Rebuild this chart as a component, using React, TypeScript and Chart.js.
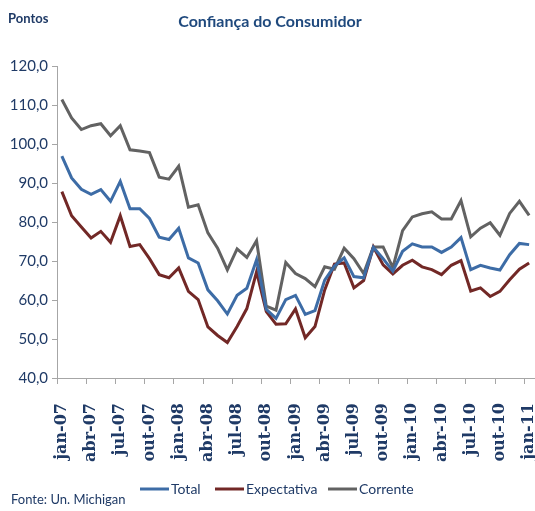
import React, { useEffect, useRef } from "react";
import { Chart, registerables } from "chart.js";

Chart.register(...registerables);

const months = ["jan", "fev", "mar", "abr", "mai", "jun", "jul", "ago", "set", "out", "nov", "dez"];
const years = ["07", "08", "09", "10"];
const categories: string[] = [];
years.forEach((y) => months.forEach((m) => categories.push(`${m}-${y}`)));
categories.push("jan-11");

const totalValues = [
  96.9, 91.3, 88.4, 87.1, 88.3, 85.3, 90.4, 83.4, 83.4, 80.9, 76.1, 75.5,
  78.4, 70.8, 69.5, 62.6, 59.8, 56.4, 61.2, 63.0, 70.3, 57.6, 55.3, 60.1,
  61.2, 56.3, 57.3, 65.1, 68.7, 70.8, 66.0, 65.7, 73.5, 70.6, 67.4, 72.5,
  74.4, 73.6, 73.6, 72.2, 73.6, 76.0, 67.8, 68.9, 68.2, 67.7, 71.6, 74.5,
  74.2,
];
const expectativaValues = [
  87.8, 81.6, 78.7, 75.9, 77.6, 74.8, 81.6, 73.7, 74.2, 70.6, 66.5, 65.7,
  68.2, 62.2, 60.1, 53.1, 50.9, 49.1, 53.2, 57.8, 67.2, 57.0, 53.8, 53.9,
  57.7, 50.3, 53.2, 62.6, 69.2, 69.5, 63.1, 65.0, 73.6, 69.0, 66.7, 68.9,
  70.2, 68.5, 67.8, 66.5, 68.9, 70.1, 62.3, 63.1, 60.9, 62.2, 65.2, 67.9,
  69.5,
];
const correnteValues = [
  111.4, 106.7, 103.7, 104.7, 105.2, 102.1, 104.7, 98.5, 98.2, 97.8, 91.5, 91.0,
  94.3, 83.8, 84.4, 77.2, 73.3, 67.7, 73.1, 70.9, 75.2, 58.4, 57.4, 69.6,
  66.8, 65.5, 63.4, 68.5, 67.9, 73.3, 70.6, 66.8, 73.6, 73.6, 68.3, 77.8,
  81.3, 82.1, 82.6, 80.8, 80.8, 85.5, 76.2, 78.4, 79.8, 76.6, 82.2, 85.3,
  81.7,
];

const seriesNames = ["Total", "Expectativa", "Corrente"];
const seriesColors = ["#3D6CA6", "#722826", "#626262"];
const yMin = 40;
const yMax = 120;
const yStep = 10;

const navy = "#1F3A66";
const axisGray = "#A6A6A6";

const textPlugin = {
  id: "textPlugin",
  afterDraw(chart: any) {
    const ctx = chart.ctx as CanvasRenderingContext2D;
    ctx.save();
    ctx.fillStyle = "#1F497D";
    ctx.textBaseline = "middle";
    ctx.font = "bold 16px Lato, sans-serif";
    ctx.textAlign = "center";
    ctx.fillText("Confiança do Consumidor", 270, 22);
    ctx.textAlign = "left";
    ctx.font = "bold 13px Lato, sans-serif";
    ctx.fillStyle = navy;
    ctx.fillText("Pontos", 8, 19);
    ctx.font = "13px Lato, sans-serif";
    ctx.fillText("Fonte: Un. Michigan", 11, 500);
    // legend
    const legendX = [140, 215, 328];
    ctx.font = "14px Lato, sans-serif";
    seriesNames.forEach((name, i) => {
      const x = legendX[i];
      ctx.strokeStyle = seriesColors[i];
      ctx.lineWidth = 3;
      ctx.beginPath();
      ctx.moveTo(x, 489);
      ctx.lineTo(x + 29, 489);
      ctx.stroke();
      ctx.fillStyle = navy;
      ctx.fillText(name, x + 31, 489);
    });
    ctx.restore();
  },
};

export default function App() {
  const canvasRef = useRef<HTMLCanvasElement | null>(null);
  useEffect(() => {
    document.body.style.margin = "0";
    const canvas = canvasRef.current;
    if (!canvas) return;
    const values = [totalValues, expectativaValues, correnteValues];
    const chart = new Chart(canvas, {
      type: "line",
      data: {
        labels: categories,
        datasets: seriesNames.map((name, i) => ({
          label: name,
          data: values[i],
          borderColor: seriesColors[i],
          backgroundColor: seriesColors[i],
          borderWidth: 3,
          pointRadius: 0,
          tension: 0,
          fill: false,
        })),
      },
      options: {
        animation: false,
        responsive: true,
        maintainAspectRatio: false,
        layout: { padding: { top: 66, right: 1, bottom: 43, left: 0 } },
        plugins: { legend: { display: false }, tooltip: { enabled: false }, title: { display: false } },
        scales: {
          x: {
            type: "category",
            offset: true,
            grid: {
              offset: true,
              drawOnChartArea: false,
              tickLength: 6,
              color: (c: any) => (c.index % 3 === 0 ? axisGray : "rgba(0,0,0,0)"),
            },
            border: { color: axisGray, width: 1 },
            ticks: {
              autoSkip: false,
              maxRotation: 90,
              minRotation: 90,
              padding: 19,
              color: navy,
              font: { family: "'DejaVu Serif', serif", weight: "bold", size: 16 },
              callback: function (this: any, val: any, index: number) {
                return index % 3 === 0 ? this.getLabelForValue(val) : "";
              },
            },
            afterFit: (scale: any) => {
              scale.height = 90;
              scale.paddingLeft = 0;
              scale.paddingRight = 0;
            },
          },
          y: {
            min: yMin,
            max: yMax,
            grid: { drawOnChartArea: false, tickLength: 5, color: axisGray },
            border: { color: axisGray, width: 1 },
            ticks: {
              stepSize: yStep,
              padding: 4,
              color: navy,
              font: { family: "Lato, sans-serif", size: 15 },
              callback: (v: any) => Number(v).toFixed(1).replace(".", ","),
            },
            afterFit: (scale: any) => {
              scale.width = 57;
              scale.paddingTop = 0;
              scale.paddingBottom = 0;
            },
          },
        },
      },
      plugins: [textPlugin],
    });
    return () => chart.destroy();
  }, []);
  return (
    <div style={{ position: "relative", width: 535, height: 511 }}>
      <canvas ref={canvasRef} />
    </div>
  );
}
